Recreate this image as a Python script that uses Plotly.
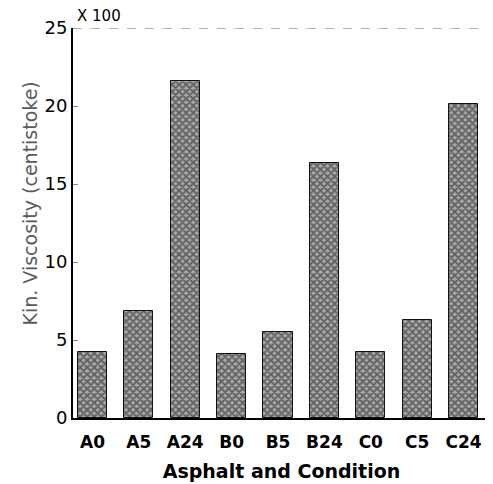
import plotly.graph_objects as go

# asphalt / condition samples and kinematic viscosity (x 100 centistoke)
samples = ["A0", "A5", "A24", "B0", "B5", "B24", "C0", "C5", "C24"]
viscosity = [4.2, 6.85, 21.6, 4.1, 5.5, 16.35, 4.2, 6.3, 20.1]
y_ticks = [0, 5, 10, 15, 20, 25]

FONT = "DejaVu Sans, Arial, sans-serif"

fig = go.Figure()
fig.add_trace(go.Bar(
    x=list(range(len(samples))),
    y=viscosity,
    width=0.63,
    marker=dict(
        color="#777777",
        line=dict(color="#111", width=1),
        pattern=dict(shape="x", fgcolor="#1a1a1a", bgcolor="#a8a8a8",
                     size=5, solidity=0.6),
    ),
))

# faint frame lines left over from the scan
fig.add_shape(type="line", xref="paper", yref="y", x0=0, x1=1, y0=25, y1=25,
              line=dict(color="#666", width=1, dash="dash"))
fig.add_shape(type="line", xref="paper", yref="paper", x0=1, x1=1, y0=0.02, y1=0.85,
              line=dict(color="#aaa", width=1, dash="dot"))

fig.add_annotation(text="X 100", xref="paper", yref="paper", x=0.004, y=1.03,
                   xanchor="left", yanchor="middle", showarrow=False,
                   font=dict(family=FONT, size=15, color="black"))
fig.add_annotation(text="Kin. Viscosity (centistoke)", xref="paper", yref="paper",
                   x=-0.103, y=0.55, textangle=-90, showarrow=False,
                   xanchor="center", yanchor="middle",
                   font=dict(family=FONT, size=19, color="#5a5a5a"))

fig.update_xaxes(
    range=[-0.42, 8.57],
    tickvals=list(range(len(samples))),
    ticktext=samples,
    showline=True, linecolor="black", linewidth=2,
    ticks="", showgrid=False, zeroline=False,
    ticklabelstandoff=8,
    tickfont=dict(family=FONT, size=17, color="black", weight="bold"),
    title=dict(text="Asphalt and Condition", standoff=13,
               font=dict(family=FONT, size=19, color="black", weight="bold")),
)
fig.update_yaxes(
    range=[0, 25],
    tickvals=y_ticks,
    showline=True, linecolor="black", linewidth=2,
    ticks="inside", ticklen=5, tickcolor="#888",
    showgrid=False, zeroline=False,
    tickfont=dict(family=FONT, size=18, color="black"),
)
# page body has an 8px margin, so the figure is sized to fit inside it
fig.update_layout(
    width=485, height=476,
    margin=dict(l=65, r=3, t=20, b=66),
    plot_bgcolor="white", paper_bgcolor="white",
    showlegend=False,
    bargap=0,
)

fig.write_html("out.html")
